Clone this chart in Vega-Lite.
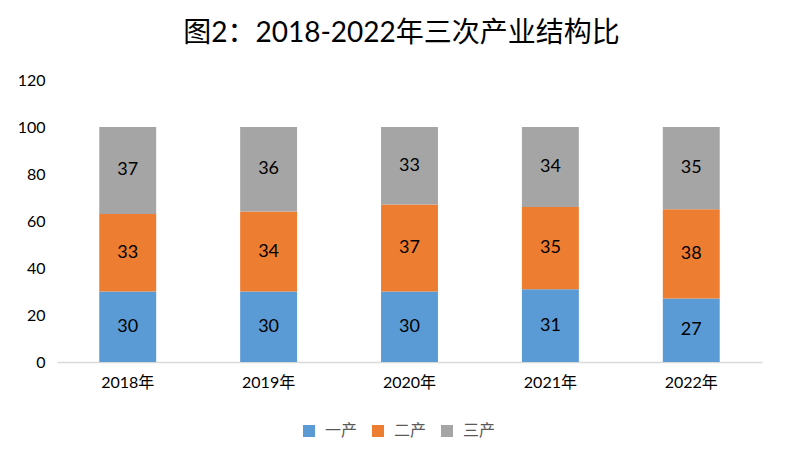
{
  "$schema": "https://vega.github.io/schema/vega-lite/v6.json",
  "width": 705,
  "height": 282,
  "autosize": {"type": "none"},
  "padding": {"left": 57, "top": 80, "right": 24, "bottom": 99},
  "background": "white",
  "title": {
    "text": "图2：2018-2022年三次产业结构比",
    "font": "Lato, 'Noto Sans CJK SC'",
    "fontSize": 28,
    "fontWeight": "normal",
    "color": "#000000",
    "anchor": "middle",
    "offset": 24,
    "dx": -8
  },
  "data": {
    "values": [
      {"year": "2018年", "type": "一产", "sector_no": 1, "value": 30},
      {"year": "2018年", "type": "二产", "sector_no": 2, "value": 33},
      {"year": "2018年", "type": "三产", "sector_no": 3, "value": 37},
      {"year": "2019年", "type": "一产", "sector_no": 1, "value": 30},
      {"year": "2019年", "type": "二产", "sector_no": 2, "value": 34},
      {"year": "2019年", "type": "三产", "sector_no": 3, "value": 36},
      {"year": "2020年", "type": "一产", "sector_no": 1, "value": 30},
      {"year": "2020年", "type": "二产", "sector_no": 2, "value": 37},
      {"year": "2020年", "type": "三产", "sector_no": 3, "value": 33},
      {"year": "2021年", "type": "一产", "sector_no": 1, "value": 31},
      {"year": "2021年", "type": "二产", "sector_no": 2, "value": 35},
      {"year": "2021年", "type": "三产", "sector_no": 3, "value": 34},
      {"year": "2022年", "type": "一产", "sector_no": 1, "value": 27},
      {"year": "2022年", "type": "二产", "sector_no": 2, "value": 38},
      {"year": "2022年", "type": "三产", "sector_no": 3, "value": 35}
    ]
  },
  "encoding": {
    "x": {
      "field": "year",
      "type": "nominal",
      "sort": null,
      "scale": {"paddingInner": 0.596, "paddingOuter": 0.3},
      "axis": {
        "title": null,
        "labelAngle": 0,
        "ticks": false,
        "domainColor": "#D9D9D9",
        "domainWidth": 1.5,
        "labelFont": "Lato, 'Noto Sans CJK SC'",
        "labelFontSize": 16,
        "labelColor": "#000000",
        "labelPadding": 12
      }
    },
    "y": {
      "field": "value",
      "type": "quantitative",
      "stack": "zero",
      "scale": {"domain": [0, 120], "nice": false},
      "axis": {
        "title": null,
        "values": [0, 20, 40, 60, 80, 100, 120],
        "domain": false,
        "ticks": false,
        "grid": false,
        "labelFont": "Lato, 'Noto Sans CJK SC'",
        "labelFontSize": 16,
        "labelColor": "#000000",
        "labelPadding": 12
      }
    },
    "order": {"field": "sector_no", "type": "quantitative", "sort": "ascending"},
    "color": {
      "field": "type",
      "type": "nominal",
      "sort": ["一产", "二产", "三产"],
      "scale": {"domain": ["一产", "二产", "三产"], "range": ["#5B9BD5", "#ED7D31", "#A5A5A5"]},
      "legend": {
        "title": null,
        "orient": "none",
        "direction": "horizontal",
        "legendX": 244,
        "legendY": 343,
        "symbolType": "square",
        "symbolSize": 144,
        "symbolStrokeWidth": 0,
        "labelFont": "Lato, 'Noto Sans CJK SC'",
        "labelFontSize": 16,
        "labelColor": "#595959",
        "labelOffset": 8,
        "columnPadding": 12
      }
    }
  },
  "layer": [
    {"mark": {"type": "bar"}},
    {
      "mark": {"type": "text", "fontSize": 18, "font": "Lato, 'Noto Sans CJK SC'", "color": "#000000", "baseline": "middle"},
      "encoding": {
        "y": {"field": "value", "type": "quantitative", "stack": "zero", "bandPosition": 0.5},
        "text": {"field": "value", "type": "quantitative"},
        "color": {"value": "#000000"}
      }
    }
  ],
  "config": {"view": {"stroke": null}}
}
